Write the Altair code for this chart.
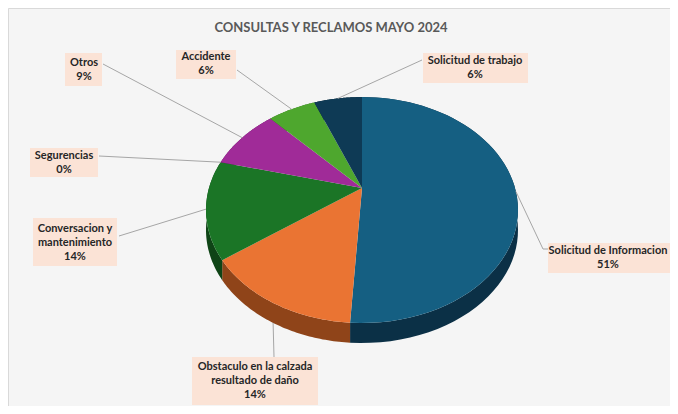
import altair as alt
import pandas as pd

# ---------------- data ----------------
TITLE = "CONSULTAS Y RECLAMOS MAYO 2024"
CATEGORIES = [
    "Solicitud de Informacion",
    "Obstaculo en la calzada resultado de daño",
    "Conversacion y mantenimiento",
    "Segurencias",
    "Otros",
    "Accidente",
    "Solicitud de trabajo",
]
VALUES = [51, 14, 14, 0, 9, 6, 6]
LABEL_TEXT = [
    "Solicitud de Informacion",
    "Obstaculo en la calzada\nresultado de daño",
    "Conversacion y\nmantenimiento",
    "Segurencias",
    "Otros",
    "Accidente",
    "Solicitud de trabajo",
]

# ---------------- style ----------------
TOP_COLORS = ["#155F82", "#EA7433", "#1B7526", "#0F9ED5", "#A02B98", "#4EA72E", "#0E3A55"]
SIDE_COLORS = ["#0B3046", "#8F4419", "#0F4416", "#08597A", "#5E1957", "#2D641B", "#07222F"]
W, H = 662, 398
CX, CY = 354, 180        # pie apex in chart pixels
A, B = 153, 108.7        # projected radii
P = 0.195                # perspective factor
T = 20                   # pie thickness
N = 60                   # rim resolution
LH = 14                  # label line height

# label layout (chart pixels): box x0, y0, x1, y1, text center, leader anchor, elbow
BOX_X0 = [540, 184, 25, 22, 57, 168, 415]
BOX_Y0 = [235, 349, 210, 140, 45, 42, 45]
BOX_X1 = [662, 310, 109, 90, 94, 228, 520]
BOX_Y1 = [265, 397, 258, 169, 78, 71, 75]
TXT_X = [600, 247, 67, 56, 76, 198, 467]
TXT_Y = [250, 373, 235, 155, 62, 56, 60]
ANC_X = [540, 266, 111, 91, 95, 229, 414]
ANC_Y = [241, 349, 228, 148, 56, 62, 52]
ELB_X = [535, 266, 111, 91, 95, 229, 414]
ELB_Y = [241, 349, 228, 148, 56, 62, 52]

df = pd.DataFrame({"name": CATEGORIES, "value": VALUES, "order": list(range(len(CATEGORIES)))})
lab = df.assign(lab=LABEL_TEXT, bx0=BOX_X0, by0=BOX_Y0, bx1=BOX_X1, by1=BOX_Y1,
                tx=TXT_X, ty=TXT_Y, ax=ANC_X, ay=ANC_Y, ex=ELB_X, ey=ELB_Y)

xs = alt.Scale(domain=[0, W], nice=False, zero=False)
ys = alt.Scale(domain=[0, H], nice=False, zero=False, reverse=True)


def angles(ch):
    return (
        ch.transform_joinaggregate(total="sum(value)")
        .transform_window(cum="sum(value)", sort=[alt.SortField("order", order="ascending")], frame=[None, 0])
        .transform_calculate(
            a0="2*PI*(datum.cum-datum.value)/datum.total",
            a1="2*PI*datum.cum/datum.total",
        )
    )


# side (thickness) of the pie
side = (
    angles(alt.Chart(df))
    .transform_calculate(idx=f"sequence(0,{2 * N + 2})")
    .transform_flatten(["idx"])
    .transform_calculate(
        t=f"datum.idx<={N} ? datum.idx/{N} : ({2 * N + 1}-datum.idx)/{N}",
        dy=f"datum.idx<={N} ? 0 : {T}",
    )
    .transform_calculate(th="datum.a0+(datum.a1-datum.a0)*datum.t")
    .transform_calculate(u="sin(datum.th)", v="-cos(datum.th)")
    .transform_calculate(s=f"1/(1-{P}*datum.v)")
    .transform_calculate(
        x=f"{CX}+{A}*datum.u*datum.s",
        y=f"{CY}+{B}*datum.v*datum.s+datum.dy",
    )
    .mark_line(filled=True, interpolate="linear")
    .encode(
        x=alt.X("x:Q", scale=xs, axis=None),
        y=alt.Y("y:Q", scale=ys, axis=None),
        order="idx:Q",
        color=alt.Color("name:N", scale=alt.Scale(domain=CATEGORIES, range=SIDE_COLORS), legend=None),
    )
)

# top face of the pie
top = (
    angles(alt.Chart(df))
    .transform_calculate(idx=f"sequence(0,{N + 2})")
    .transform_flatten(["idx"])
    .transform_calculate(th=f"datum.a0+(datum.a1-datum.a0)*max(datum.idx-1,0)/{N}")
    .transform_calculate(u="sin(datum.th)", v="-cos(datum.th)")
    .transform_calculate(s=f"1/(1-{P}*datum.v)")
    .transform_calculate(
        x=f"datum.idx==0 ? {CX} : {CX}+{A}*datum.u*datum.s",
        y=f"datum.idx==0 ? {CY} : {CY}+{B}*datum.v*datum.s",
    )
    .mark_line(filled=True, interpolate="linear")
    .encode(
        x=alt.X("x:Q", scale=xs, axis=None),
        y=alt.Y("y:Q", scale=ys, axis=None),
        order="idx:Q",
        color=alt.Color("name:N", scale=alt.Scale(domain=CATEGORIES, range=TOP_COLORS), legend=None),
    )
)

labbase = (
    angles(alt.Chart(lab))
    .transform_calculate(mid="(datum.a0+datum.a1)/2")
    .transform_calculate(mu="sin(datum.mid)", mv="-cos(datum.mid)")
    .transform_calculate(ms=f"1/(1-{P}*datum.mv)")
    .transform_calculate(
        px=f"{CX}+{A}*datum.mu*datum.ms",
        py=f"{CY}+{B}*datum.mv*datum.ms+(datum.mv>0.5 ? {T} : 0)",
        txt="datum.lab + '\\n' + round(100*datum.value/datum.total) + '%'",
    )
    .transform_calculate(
        ty0=f"datum.ty - (length(split(datum.txt, '\\n')) - 1) * {LH} / 2",
    )
)

stub = labbase.mark_rule(color="#A6A6A6", strokeWidth=1).encode(
    x=alt.X("ax:Q", scale=xs, axis=None), y=alt.Y("ay:Q", scale=ys, axis=None),
    x2="ex:Q", y2="ey:Q",
)
leader = labbase.mark_rule(color="#A6A6A6", strokeWidth=1).encode(
    x=alt.X("ex:Q", scale=xs, axis=None), y=alt.Y("ey:Q", scale=ys, axis=None),
    x2="px:Q", y2="py:Q",
)
boxes = labbase.mark_rect(color="#FBE3D6").encode(
    x=alt.X("bx0:Q", scale=xs, axis=None), y=alt.Y("by0:Q", scale=ys, axis=None),
    x2="bx1:Q", y2="by1:Q",
)
texts = labbase.mark_text(
    font="Lato", fontWeight="bold", fontSize=11, lineBreak="\n", lineHeight=LH,
    align="center", baseline="middle", color="#262626",
).encode(
    x=alt.X("tx:Q", scale=xs, axis=None), y=alt.Y("ty0:Q", scale=ys, axis=None),
    text="txt:N",
)

title = alt.Chart(pd.DataFrame({"t": [TITLE]})).mark_text(
    font="Lato", fontWeight="bold", fontSize=13, color="#595959", align="center", baseline="middle",
).encode(x=alt.value(323), y=alt.value(20), text="t:N")

chart = (
    alt.layer(side, top, stub, leader, boxes, texts, title)
    .resolve_scale(color="independent")
    .properties(width=W, height=H, background="#F5F5F5", padding=0, autosize=alt.AutoSizeParams(type="none"))
    .configure_view(stroke="#D9D9D9")
)

chart.save("out.html", embed_options={"renderer": "svg", "actions": False})
